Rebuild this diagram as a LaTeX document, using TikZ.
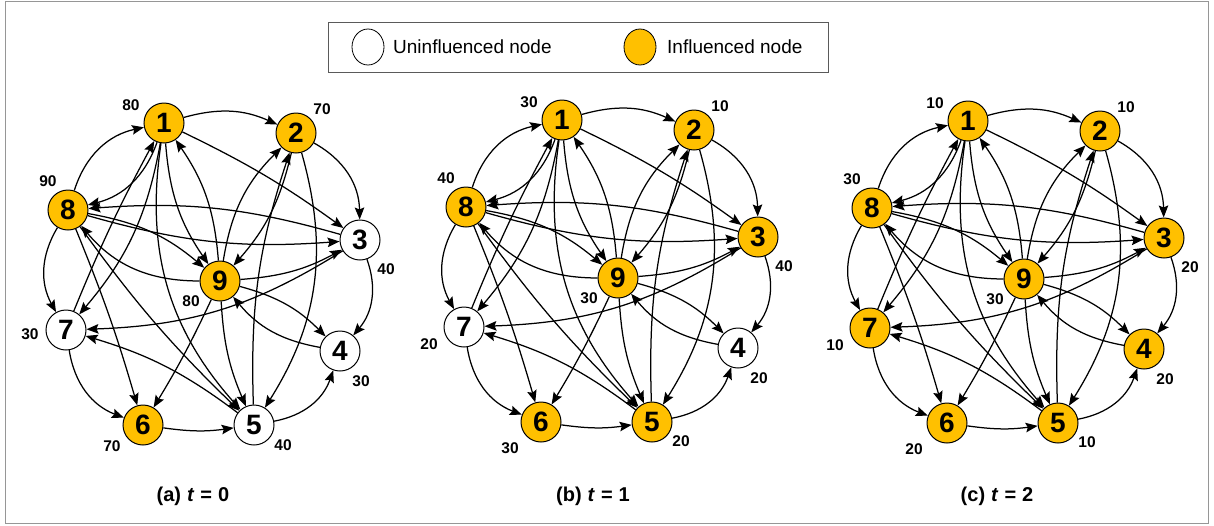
\documentclass[tikz,border=0pt]{standalone}
\usepackage{fontspec}
\setmainfont{Liberation Sans}
\usetikzlibrary{arrows.meta,shapes.geometric}
\definecolor{myorange}{RGB}{255,192,0}
\definecolor{framegray}{RGB}{150,150,150}
\definecolor{legendgray}{RGB}{90,90,90}
\tikzset{
  gn/.style={circle, draw=black, line width=1pt, minimum size=40pt, inner sep=0pt,
    font=\fontsize{28}{28}\selectfont\bfseries},
  inf/.style={gn, fill=myorange},
  uninf/.style={gn, fill=white},
  lab/.style={font=\fontsize{15.5}{15.5}\selectfont\bfseries, inner sep=0pt},
  e/.style={line width=1.25pt, -{Stealth[length=12pt,width=9.5pt,inset=2pt]}},
  captext/.style={font=\fontsize{20}{20}\selectfont\bfseries, inner sep=0pt},
  legtext/.style={font=\fontsize{19}{19}\selectfont, anchor=west, inner sep=0pt},
  legcirc/.style={ellipse, draw=black, line width=0.8pt, minimum width=32pt, minimum height=36pt, inner sep=0pt}
}
\newcommand\myedges[1]{%
  \draw[e] (#1-1) to[bend left=20] (#1-2);
  \draw[e] (#1-2) to[bend left=30] (#1-3);
  \draw[e] (#1-3) to[bend left=30] (#1-4);
  \draw[e] (#1-5) to[bend right=30] (#1-4);
  \draw[e] (#1-6) to[bend right=8] (#1-5);
  \draw[e] (#1-7) to[bend right=30] (#1-6);
  \draw[e] (#1-8) to[bend right=30] (#1-7);
  \draw[e] (#1-8) to[bend left=30] (#1-1);
  \draw[e] (#1-1) to[bend left=28] (#1-8);
  \draw[e] (#1-1) to[bend left=5] (#1-3);
  \draw[e] (#1-3) to[bend right=10] (#1-8);
  \draw[e] (#1-8) to[bend right=10] (#1-3);
  \draw[e] (#1-8) to[bend left=15] (#1-9);
  \draw[e] (#1-9) to[bend left=25] (#1-8);
  \draw[e] (#1-9) to[bend right=12] (#1-3);
  \draw[e] (#1-3) to[bend left=15] (#1-7);
  \draw[e] (#1-9) to[bend left=15] (#1-4);
  \draw[e] (#1-4) to[bend left=20] (#1-9);
  \draw[e] (#1-1) to[bend right=15] (#1-9);
  \draw[e] (#1-9) to[bend right=15] (#1-1);
  \draw[e] (#1-9) to[bend left=18] (#1-2);
  \draw[e] (#1-2) to[bend left=14] (#1-9);
  \draw[e] (#1-5) to[bend left=10] (#1-2);
  \draw[e] (#1-2) to[bend left=24] (#1-5);
  \draw[e] (#1-1) to[bend right=25] (#1-5);
  \draw[e] (#1-9) to[bend right=10] (#1-5);
  \draw[e] (#1-9) to[bend left=3] (#1-6);
  \draw[e] (#1-7) to[bend left=3] (#1-1);
  \draw[e] (#1-1) to[bend left=15] (#1-7);
  \draw[e] (#1-8) to[bend left=3] (#1-6);
  \draw[e] (#1-8) to[bend right=5] (#1-5);
  \draw[e] (#1-5) to[bend right=10] (#1-7);
}
% #1 prefix, #2..#9 styles of nodes 1..8
\newcommand\mynodes[9]{%
  \node[#2] (#1-1) at (164,-123) {1};
  \node[#3] (#1-2) at (296,-133) {2};
  \node[#4] (#1-3) at (360,-240) {3};
  \node[#5] (#1-4) at (340,-351) {4};
  \node[#6] (#1-5) at (254,-425) {5};
  \node[#7] (#1-6) at (143,-425) {6};
  \node[#8] (#1-7) at (66,-330) {7};
  \node[#9] (#1-8) at (68,-210) {8};
}
\begin{document}
\begin{tikzpicture}[x=1pt,y=1pt]
\useasboundingbox (0,0) rectangle (1214,-525);
\draw[framegray, line width=1pt] (5,-1) rectangle (1208,-523);
% legend
\draw[legendgray, line width=1pt] (328,-22) rectangle (828,-72);
\node[legcirc, fill=white] (lw) at (368,-47) {};
\node[legtext] (lwt) at (393,-47) {Uninfluenced node};
\node[legcirc, fill=myorange] (lo) at (640,-47) {};
\node[legtext] (lot) at (667,-47) {Influenced node};
% panel a
\begin{scope}
  \mynodes{a}{inf}{inf}{uninf}{uninf}{uninf}{inf}{uninf}{inf}
  \node[inf] (a-9) at (220,-281) {9};
  \myedges{a}
  \node[lab] (a-l1) at ([shift={(-33,18)}]a-1) {80};
  \node[lab] (a-l2) at ([shift={(26,24)}]a-2) {70};
  \node[lab] (a-l3) at ([shift={(26,-29)}]a-3) {40};
  \node[lab] (a-l4) at ([shift={(21,-30)}]a-4) {30};
  \node[lab] (a-l5) at ([shift={(29,-20)}]a-5) {40};
  \node[lab] (a-l6) at ([shift={(-31,-21)}]a-6) {70};
  \node[lab] (a-l7) at ([shift={(-36,-4)}]a-7) {30};
  \node[lab] (a-l8) at ([shift={(-20,29)}]a-8) {90};
  \node[lab] (a-l9) at ([shift={(-29,-20)}]a-9) {80};
\end{scope}
\node[captext] (a-cap) at (193,-496) {(a)\hspace{6pt}\textit{t}\hspace{6pt}=\hspace{6pt}0};
% panel b
\begin{scope}[shift={(398,3)}]
  \mynodes{b}{inf}{inf}{inf}{uninf}{inf}{inf}{uninf}{inf}
  \node[inf] (b-9) at (220,-281) {9};
  \myedges{b}
  \node[lab] (b-l1) at ([shift={(-33,18)}]b-1) {30};
  \node[lab] (b-l2) at ([shift={(26,24)}]b-2) {10};
  \node[lab] (b-l3) at ([shift={(26,-29)}]b-3) {40};
  \node[lab] (b-l4) at ([shift={(21,-30)}]b-4) {20};
  \node[lab] (b-l5) at ([shift={(29,-19)}]b-5) {20};
  \node[lab] (b-l6) at ([shift={(-31,-26)}]b-6) {30};
  \node[lab] (b-l7) at ([shift={(-35,-17)}]b-7) {20};
  \node[lab] (b-l8) at ([shift={(-20,29)}]b-8) {40};
  \node[lab] (b-l9) at ([shift={(-29,-20)}]b-9) {30};
\end{scope}
\node[captext] (b-cap) at (593,-496) {(b)\hspace{6pt}\textit{t}\hspace{6pt}=\hspace{6pt}1};
% panel c
\begin{scope}[shift={(804,2)}]
  \mynodes{c}{inf}{inf}{inf}{inf}{inf}{inf}{inf}{inf}
  \node[inf] (c-9) at (220,-281) {9};
  \myedges{c}
  \node[lab] (c-l1) at ([shift={(-33,18)}]c-1) {10};
  \node[lab] (c-l2) at ([shift={(26,24)}]c-2) {10};
  \node[lab] (c-l3) at ([shift={(26,-29)}]c-3) {20};
  \node[lab] (c-l4) at ([shift={(21,-30)}]c-4) {20};
  \node[lab] (c-l5) at ([shift={(29,-19)}]c-5) {10};
  \node[lab] (c-l6) at ([shift={(-33,-26)}]c-6) {20};
  \node[lab] (c-l7) at ([shift={(-35,-17)}]c-7) {10};
  \node[lab] (c-l8) at ([shift={(-20,29)}]c-8) {30};
  \node[lab] (c-l9) at ([shift={(-29,-20)}]c-9) {30};
\end{scope}
\node[captext] (c-cap) at (997,-496) {(c)\hspace{6pt}\textit{t}\hspace{6pt}=\hspace{6pt}2};
\end{tikzpicture}
\end{document}
